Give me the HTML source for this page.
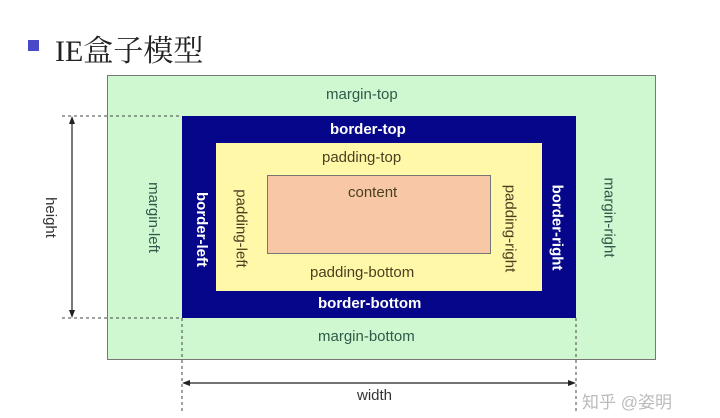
<!DOCTYPE html>
<html><head><meta charset="utf-8"><style>
body{margin:0;width:720px;height:418px;background:#fff;overflow:hidden;position:relative;font-family:"Liberation Sans","DejaVu Sans",sans-serif}
.a{position:absolute}
.t{position:absolute;font-size:15px;white-space:nowrap}
.v{position:absolute;font-size:15px;white-space:nowrap;transform-origin:center;}
</style></head><body>
<div class="a" style="left:28px;top:40px;width:11px;height:11px;background:#4848c8"></div>
<div class="a" style="left:55px;top:26px;font-size:30px;color:#222;font-family:'Liberation Serif','Noto Serif CJK SC',serif">IE盒子模型</div>
<div class="a" style="left:107px;top:75px;width:547px;height:283px;background:#cff7d0;border:1px solid #777"></div>
<div class="a" style="left:182px;top:116px;width:394px;height:202px;background:#06068a"></div>
<div class="a" style="left:216px;top:143px;width:326px;height:148px;background:#fff8a8"></div>
<div class="a" style="left:267px;top:175px;width:222px;height:77px;background:#f7c7a6;border:1px solid #777"></div>
<div class="t" style="left:326px;top:86px;color:#2f5a4a">margin-top</div>
<div class="t" style="left:318px;top:328px;color:#2f5a4a">margin-bottom</div>
<div class="t" style="left:330px;top:121px;color:#fff;font-weight:bold">border-top</div>
<div class="t" style="left:318px;top:295px;color:#fff;font-weight:bold">border-bottom</div>
<div class="t" style="left:322px;top:149px;color:#4a4020">padding-top</div>
<div class="t" style="left:310px;top:264px;color:#4a4020">padding-bottom</div>
<div class="t" style="left:348px;top:184px;color:#4a4020">content</div>
<div class="v" style="left:118px;top:209px;color:#2f5a4a;transform:rotate(90deg)">margin-left</div>
<div class="v" style="left:569px;top:209px;color:#2f5a4a;transform:rotate(90deg)">margin-right</div>
<div class="v" style="left:164px;top:221px;color:#fff;font-weight:bold;transform:rotate(90deg)">border-left</div>
<div class="v" style="left:514px;top:219px;color:#fff;font-weight:bold;transform:rotate(90deg)">border-right</div>
<div class="v" style="left:202px;top:220px;color:#4a4020;transform:rotate(90deg)">padding-left</div>
<div class="v" style="left:466px;top:220px;color:#4a4020;transform:rotate(90deg)">padding-right</div>
<div class="v" style="left:30px;top:209px;color:#333;transform:rotate(90deg)">height</div>
<div class="t" style="left:357px;top:387px;color:#333">width</div>
<svg class="a" style="left:0;top:0" width="720" height="418">
<g stroke="#444" stroke-width="1" stroke-dasharray="3,3" fill="none">
<line x1="62" y1="116" x2="182" y2="116"/><line x1="62" y1="318" x2="182" y2="318"/>
<line x1="182" y1="318" x2="182" y2="412"/><line x1="576" y1="318" x2="576" y2="412"/>
</g>
<g stroke="#222" stroke-width="1.2"><line x1="72" y1="120" x2="72" y2="314"/><line x1="186" y1="383" x2="572" y2="383"/></g>
<g fill="#222"><polygon points="72,116 69,124 75,124"/><polygon points="72,318 69,310 75,310"/><polygon points="182,383 190,380 190,386"/><polygon points="576,383 568,380 568,386"/></g>
</svg>
<div class="t" style="left:582px;top:388px;color:#bbb;font-size:17px;font-family:'Liberation Sans','Noto Sans CJK SC',sans-serif">知乎 @姿明</div>
</body></html>
